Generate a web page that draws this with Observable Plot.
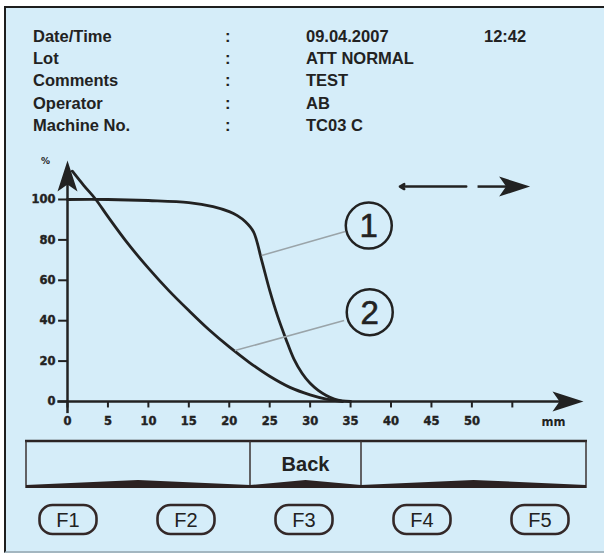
<!DOCTYPE html>
<html><head><meta charset="utf-8">
<script src="https://cdn.jsdelivr.net/npm/d3@7"></script>
<script src="https://cdn.jsdelivr.net/npm/@observablehq/plot@0.6"></script>
<style>
html,body{margin:0;padding:0;background:#fff;}
#page{position:relative;width:604px;height:556px;overflow:hidden;font-family:"Liberation Sans",Arial,sans-serif;}
#panel{position:absolute;left:4px;top:6px;width:600px;height:547px;background:#d5edf9;border-left:2px solid #1e1e1e;border-top:2px solid #1e1e1e;border-bottom:2px solid #a3b6c0;box-sizing:border-box;}
#deco{position:absolute;left:0;top:0;}
#chart{position:absolute;left:0;top:140px;}
</style></head>
<body><div id="page"><div id="panel"></div><svg id="deco" width="604" height="556"></svg><div id="chart"></div></div>
<script>
// ---- header info ----
const infoLabels = ["Date/Time", "Lot", "Comments", "Operator", "Machine No."];
const infoValues = ["09.04.2007", "ATT NORMAL", "TEST", "AB", "TC03 C"];
const infoTime = "12:42";

// ---- axes ----
const xTicks = [0, 5, 10, 15, 20, 25, 30, 35, 40, 45, 50, 55];
const xTickLabels = ["0", "5", "10", "15", "20", "25", "30", "35", "40", "45", "50", ""];
const yTicks = [0, 20, 40, 60, 80, 100];
const xUnit = ["mm"];
const yUnit = ["%"];

// ---- curve 1 (mm, %) ----
const curve1X = [0, 5, 10, 15, 18, 20, 21, 22, 23, 24, 25, 26, 27, 28, 29, 30, 31, 32, 33, 34, 35];
const curve1Y = [100, 100, 99.5, 98.5, 96.5, 94, 92, 89, 84, 70, 55, 42, 31, 21, 14, 9, 5.5, 3, 1.2, 0.3, 0];

// ---- curve 2 (mm, %) ----
const curve2X = [0.6, 2, 3.5, 5, 7.5, 10, 12.5, 15, 17.5, 20, 22.5, 25, 27.5, 30, 32, 34];
const curve2Y = [114, 107, 100, 91.5, 78, 66, 55, 45, 35.5, 27, 19.3, 12.5, 7, 3.3, 1.2, 0];

// ---- callouts ----
const calloutLabels = ["1", "2"];
const calloutCircleX = [37.25, 37.37];
const calloutCircleY = [87.1, 44.2];
const calloutFromX = [24.0, 20.7];
const calloutFromY = [72.3, 25.2];
const calloutToX = [34.35, 34.2];
const calloutToY = [84.2, 40.1];

// ---- direction hint arrows ----
const hintY = [106.4];
const hintLeftFrom = [49.3];
const hintLeftTo = [41.1];
const hintRightFrom = [50.7];
const hintRightShaftTo = [54.5];

// ---- soft keys ----
const menuLabels = ["", "Back", ""];
const softkeyLabels = ["F1", "F2", "F3", "F4", "F5"];

const ink = "#222";
const xMax = 63.8, yMax = 119.3;
const tickFont = "DejaVu Sans, Liberation Sans, Arial, sans-serif";

// filled arrowhead symbol, tip at origin, pointing up
const stealth = {
  draw(ctx) {
    ctx.moveTo(0, 0);
    ctx.lineTo(10, 31);
    ctx.lineTo(0, 24);
    ctx.lineTo(-10, 31);
    ctx.closePath();
  }
};
const tipX = [0, xMax, 57.2];
const tipY = [yMax, 0, hintY[0]];
const tipRotate = [0, 90, 90];

const chart = Plot.plot({
  width: 604, height: 296,
  marginLeft: 67, marginRight: 21, marginTop: 20, marginBottom: 35,
  x: {domain: [0, xMax], axis: null},
  y: {domain: [0, yMax], axis: null},
  style: {background: "transparent", overflow: "visible", fontFamily: "Liberation Sans, Arial, sans-serif"},
  marks: [
    Plot.ruleX([0], {y1: -6, y2: yMax - 8, stroke: ink, strokeWidth: 2.5}),
    Plot.ruleY([0], {x1: -1.2, x2: xMax - 2, stroke: ink, strokeWidth: 2.5}),
    Plot.ruleY(yTicks, {y: d => d, x1: -1.1, x2: 0, stroke: ink, strokeWidth: 2}),
    Plot.text(yTicks, {x: 0, y: d => d, dx: -12, textAnchor: "end", text: d => String(d), fontFamily: tickFont, fontSize: 11.5, fontWeight: "bold", fill: ink, stroke: ink, strokeWidth: 0.4, ariaLabel: "ytick-labels"}),
    Plot.ruleX(xTicks, {x: d => d, y1: 0, y2: -3.2, stroke: ink, strokeWidth: 2}),
    Plot.text(xTicks, {x: d => d, y: 0, dy: 20, text: (d, i) => xTickLabels[i], fontFamily: tickFont, fontSize: 11.5, fontWeight: "bold", fill: ink, stroke: ink, strokeWidth: 0.4, ariaLabel: "xtick-labels"}),
    Plot.text(xUnit, {x: 60.1, y: 0, dy: 21, text: d => d, fontFamily: tickFont, fontSize: 11.5, fontWeight: "bold", fill: ink, ariaLabel: "x-unit"}),
    Plot.text(yUnit, {x: 0, y: yMax, dx: -22, dy: 1, text: d => d, fontFamily: tickFont, fontSize: 9, fontWeight: "bold", fill: ink}),
    Plot.line(curve1Y, {x: curve1X, y: curve1Y, curve: "catmull-rom", stroke: ink, strokeWidth: 2.8}),
    Plot.line(curve2Y, {x: curve2X, y: curve2Y, curve: "catmull-rom", stroke: ink, strokeWidth: 2.8}),
    Plot.link(calloutLabels, {x1: calloutFromX, y1: calloutFromY, x2: calloutToX, y2: calloutToY, stroke: "#9aa4a9", strokeWidth: 1.6}),
    Plot.dot(calloutLabels, {x: calloutCircleX, y: calloutCircleY, r: 23, stroke: ink, strokeWidth: 2.5, fill: "none"}),
    Plot.text(calloutLabels, {x: calloutCircleX, y: calloutCircleY, text: d => d, fontSize: 33, fill: ink, stroke: ink, strokeWidth: 0.6, dy: 1}),
    Plot.arrow(hintY, {x1: hintLeftFrom, y1: hintY, x2: hintLeftTo, y2: hintY, headLength: 3, stroke: ink, strokeWidth: 2.5}),
    Plot.link(hintY, {x1: hintRightFrom, y1: hintY, x2: hintRightShaftTo, y2: hintY, stroke: ink, strokeWidth: 2.5}),
    Plot.dot(tipX, {x: tipX, y: tipY, rotate: tipRotate, symbol: stealth, fill: ink, stroke: "none"})
  ]
});
for (const lbl of ["ytick-labels", "xtick-labels", "x-unit"]) {
  const g = chart.querySelector(`[aria-label="${lbl}"]`);
  if (g) g.style.letterSpacing = "1.2px";
}
document.getElementById("chart").append(chart);

// ---- decoration: header text + soft key bar ----
const deco = d3.select("#deco");
const rowBase = [42, 64.2, 86.4, 108.6, 130.8];
const hdr = deco.append("g").attr("font-family", "Liberation Sans, Arial, sans-serif")
  .attr("font-size", 16.5).attr("font-weight", "bold").attr("fill", ink);
infoLabels.forEach((t, i) => {
  hdr.append("text").attr("x", 33).attr("y", rowBase[i]).text(t);
  hdr.append("text").attr("x", 225).attr("y", rowBase[i]).text(":");
  hdr.append("text").attr("x", 306).attr("y", rowBase[i]).text(infoValues[i]);
});
hdr.append("text").attr("x", 484).attr("y", rowBase[0]).text(infoTime);

const barL = 26, barR = 586, barT = 441, barB = 488;
const edges = [barL, 250, 361, barR];
const bar = deco.append("g");
bar.append("line").attr("x1", barL - 1).attr("x2", barR + 1).attr("y1", barT).attr("y2", barT).attr("stroke", "#2b2424").attr("stroke-width", 2.5);
edges.forEach(x => bar.append("line").attr("x1", x).attr("x2", x).attr("y1", barT).attr("y2", barB).attr("stroke", "#3a3232").attr("stroke-width", 1.5));
for (let i = 0; i < 3; i++) {
  const a = edges[i], b = edges[i + 1], m = (a + b) / 2;
  bar.append("path").attr("d", `M${a},${barB}L${a},${barB - 3}L${m},${barB - 8}L${b},${barB - 3}L${b},${barB}Z`).attr("fill", "#2b2222");
  if (menuLabels[i]) bar.append("text").attr("x", m).attr("y", 471).attr("text-anchor", "middle")
    .attr("font-family", "Liberation Sans, Arial, sans-serif").attr("font-size", 20).attr("font-weight", "bold").attr("fill", ink).text(menuLabels[i]);
}
const keyCx = [68, 186, 304, 422, 540];
softkeyLabels.forEach((t, i) => {
  bar.append("rect").attr("x", keyCx[i] - 28.5).attr("y", 505).attr("width", 57).attr("height", 29).attr("rx", 13)
    .attr("fill", "none").attr("stroke", "#332828").attr("stroke-width", 2.6);
  bar.append("text").attr("x", keyCx[i]).attr("y", 527).attr("text-anchor", "middle")
    .attr("font-family", "Liberation Sans, Arial, sans-serif").attr("font-size", 20).attr("fill", ink).text(t);
});
</script>
</body></html>
